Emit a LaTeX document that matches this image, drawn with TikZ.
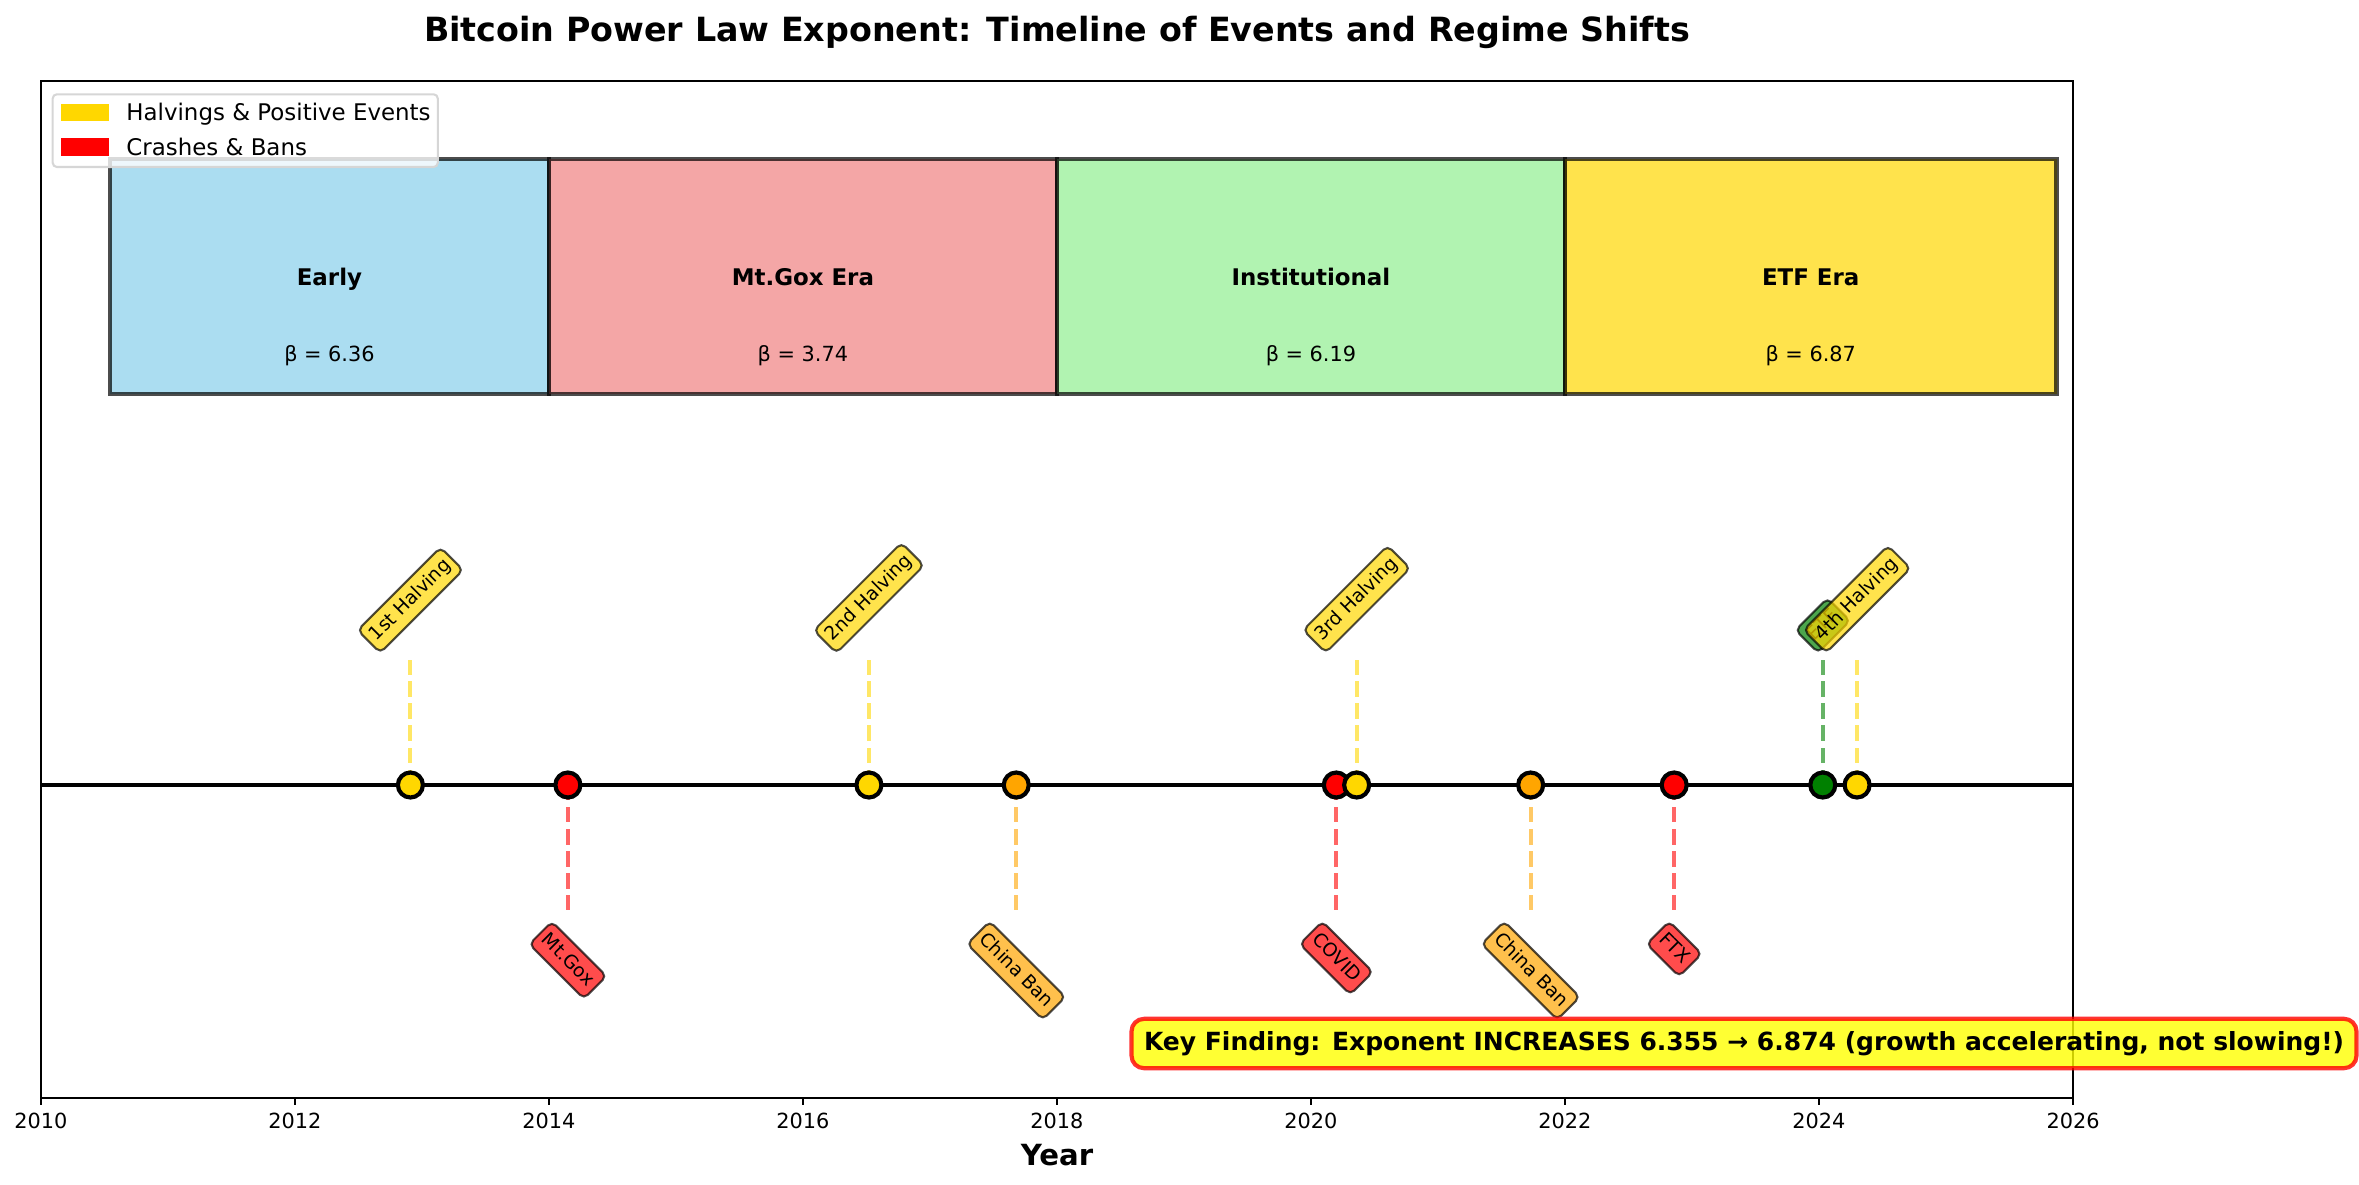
\documentclass[tikz,border=0pt]{standalone}
\usepackage{fontspec}
\setmainfont{DejaVu Sans}
\usepackage{xcolor}
\usepackage{tikz}

\definecolor{evgold}{HTML}{FFD700}
\definecolor{evred}{HTML}{FF0000}
\definecolor{evorange}{HTML}{FFA500}
\definecolor{evgreen}{HTML}{008000}
\definecolor{skyblue}{HTML}{87CEEB}
\definecolor{lightcoral}{HTML}{F08080}
\definecolor{lightgreen}{HTML}{90EE90}
\definecolor{keyyellow}{HTML}{FFFF00}

\begin{document}
\begin{tikzpicture}[x=0.016933cm, y=-0.016933cm,
  regime/.style={draw=black, draw opacity=0.7, fill opacity=0.7, line width=2bp},
  regtitle/.style={text height=0.76em, text depth=0.24em, font=\fontsize{11bp}{13bp}\selectfont\bfseries},
  regbeta/.style={text height=0.76em, text depth=0.24em, font=\fontsize{10bp}{12bp}\selectfont},
  evline/.style={line width=2bp, dash pattern=on 7.4bp off 3.2bp},
  evdot/.style={circle, draw=black, line width=2bp, minimum size=12bp, inner sep=0pt},
  evlabel/.style={draw=black, draw opacity=0.7, fill opacity=0.7, text opacity=1,
    rounded corners=2.7bp, inner sep=2.7bp, line width=1bp,
    text height=0.76em, text depth=0.24em, font=\fontsize{9bp}{11bp}\selectfont},
  ticklabel/.style={anchor=north, inner sep=0pt, font=\fontsize{10bp}{12bp}\selectfont},
  legtext/.style={anchor=base west, inner sep=0pt, font=\fontsize{11bp}{13bp}\selectfont}]
  \useasboundingbox (0,0) rectangle (2359,1185);

  % title
  \node[anchor=base, font=\fontsize{16bp}{19bp}\selectfont\bfseries] (title) at (1057,41.5)
    {Bitcoin Power Law Exponent: Timeline of Events and Regime Shifts};

  \begin{scope}[shift={(40.8,785)}, x=2.1512cm, y=5.2984cm]
    % regimes
    \filldraw[regime, fill=skyblue]    (0.545,1.25) rectangle (4,2);
    \filldraw[regime, fill=lightcoral] (4,1.25) rectangle (8,2);
    \filldraw[regime, fill=lightgreen] (8,1.25) rectangle (12,2);
    \filldraw[regime, fill=evgold]     (12,1.25) rectangle (15.87,2);

    \node[regtitle] (early)   at (2.2725,1.615) {Early};
    \node[regbeta]  (early b) at (2.2725,1.37) {β = 6.36};
    \node[regtitle] (gox)     at (6,1.615) {Mt.Gox Era};
    \node[regbeta]  (gox b)   at (6,1.37) {β = 3.74};
    \node[regtitle] (inst)    at (10,1.615) {Institutional};
    \node[regbeta]  (inst b)  at (10,1.37) {β = 6.19};
    \node[regtitle] (etf)     at (13.935,1.615) {ETF Era};
    \node[regbeta]  (etf b)   at (13.935,1.37) {β = 6.87};

    % timeline
    \coordinate (tl west) at (0,0);
    \coordinate (tl east) at (16,0);
    \draw[line width=2bp] (tl west) -- (tl east);

    % events
    \coordinate (h1)   at (2.91,0);  \coordinate (h1 end)   at (2.91,0.4);
    \coordinate (gox1) at (4.15,0);  \coordinate (gox1 end) at (4.15,-0.4);
    \coordinate (h2)   at (6.52,0);  \coordinate (h2 end)   at (6.52,0.4);
    \coordinate (cn1)  at (7.68,0);  \coordinate (cn1 end)  at (7.68,-0.4);
    \coordinate (cov)  at (10.2,0);  \coordinate (cov end)  at (10.2,-0.4);
    \coordinate (h3)   at (10.36,0); \coordinate (h3 end)   at (10.36,0.4);
    \coordinate (cn2)  at (11.73,0); \coordinate (cn2 end)  at (11.73,-0.4);
    \coordinate (ftx)  at (12.86,0); \coordinate (ftx end)  at (12.86,-0.4);
    \coordinate (etf1) at (14.03,0); \coordinate (etf1 end) at (14.03,0.4);
    \coordinate (h4)   at (14.30,0); \coordinate (h4 end)   at (14.30,0.4);

    \draw[evline, evgold!60]   (h1) -- (h1 end);
    \draw[evline, evred!60]    (gox1) -- (gox1 end);
    \draw[evline, evgold!60]   (h2) -- (h2 end);
    \draw[evline, evorange!60] (cn1) -- (cn1 end);
    \draw[evline, evred!60]    (cov) -- (cov end);
    \draw[evline, evgold!60]   (h3) -- (h3 end);
    \draw[evline, evorange!60] (cn2) -- (cn2 end);
    \draw[evline, evred!60]    (ftx) -- (ftx end);
    \draw[evline, evgreen!60]  (etf1) -- (etf1 end);
    \draw[evline, evgold!60]   (h4) -- (h4 end);

    \node[evdot, fill=evgold]   (h1 dot)   at (h1) {};
    \node[evdot, fill=evred]    (gox1 dot) at (gox1) {};
    \node[evdot, fill=evgold]   (h2 dot)   at (h2) {};
    \node[evdot, fill=evorange] (cn1 dot)  at (cn1) {};
    \node[evdot, fill=evred]    (cov dot)  at (cov) {};
    \node[evdot, fill=evgold]   (h3 dot)   at (h3) {};
    \node[evdot, fill=evorange] (cn2 dot)  at (cn2) {};
    \node[evdot, fill=evred]    (ftx dot)  at (ftx) {};
    \node[evdot, fill=evgreen]  (etf1 dot) at (etf1) {};
    \node[evdot, fill=evgold]   (h4 dot)   at (h4) {};

    \node[evlabel, fill=evgold, rotate=45]    (h1 lab)   at (2.91,0.591)   {1st Halving};
    \node[evlabel, fill=evred, rotate=-45]    (gox1 lab) at (4.15,-0.560)  {Mt.Gox};
    \node[evlabel, fill=evgold, rotate=45]    (h2 lab)   at (6.52,0.598)   {2nd Halving};
    \node[evlabel, fill=evorange, rotate=-45] (cn1 lab)  at (7.68,-0.593)  {China Ban};
    \node[evlabel, fill=evred, rotate=-45]    (cov lab)  at (10.2,-0.553)  {COVID};
    \node[evlabel, fill=evgold, rotate=45]    (h3 lab)   at (10.36,0.594)  {3rd Halving};
    \node[evlabel, fill=evorange, rotate=-45] (cn2 lab)  at (11.73,-0.593) {China Ban};
    \node[evlabel, fill=evred, rotate=-45]    (ftx lab)  at (12.86,-0.524) {FTX};
    \node[evlabel, fill=evgreen, rotate=45]   (etf1 lab) at (14.03,0.510)  {ETF};
    \node[evlabel, fill=evgold, rotate=45]    (h4 lab)   at (14.30,0.594)  {4th Halving};

    % axes frame and ticks
    \draw[line width=0.8bp] (0,-1) rectangle (16,2.25);
    \foreach \yr in {0,2,...,16}
      \draw[line width=0.8bp] (\yr,-1) -- (\yr,-1.0233);
    \node[ticklabel] (t2010) at (0,-1.047)  {2010};
    \node[ticklabel] (t2012) at (2,-1.047)  {2012};
    \node[ticklabel] (t2014) at (4,-1.047)  {2014};
    \node[ticklabel] (t2016) at (6,-1.047)  {2016};
    \node[ticklabel] (t2018) at (8,-1.047)  {2018};
    \node[ticklabel] (t2020) at (10,-1.047) {2020};
    \node[ticklabel] (t2022) at (12,-1.047) {2022};
    \node[ticklabel] (t2024) at (14,-1.047) {2024};
    \node[ticklabel] (t2026) at (16,-1.047) {2026};
  \end{scope}

  % x label
  \node[anchor=base, font=\fontsize{14bp}{17bp}\selectfont\bfseries] (xlab) at (1057,1165) {Year};

  % legend
  \filldraw[draw=black!16, fill=white, fill opacity=0.8, line width=1bp, rounded corners=2bp]
    (52.7,94.3) rectangle (437.8,167);
  \fill[evgold] (61,104) rectangle (109,121.5);
  \fill[evred]  (61,138.5) rectangle (109,156);
  \node[legtext] (leg pos) at (126,121) {Halvings \& Positive Events};
  \node[legtext] (leg neg) at (126,156) {Crashes \& Bans};

  % key finding
  \node[draw=evred, draw opacity=0.8, fill=keyyellow, fill opacity=0.8, text opacity=1,
    line width=2bp, rounded corners=6bp, inner sep=6bp,
    font=\fontsize{12bp}{14bp}\selectfont\bfseries] (finding) at (1744,1043.5)
    {Key Finding: Exponent INCREASES 6.355 → 6.874 (growth accelerating, not slowing!)};
\end{tikzpicture}
\end{document}
